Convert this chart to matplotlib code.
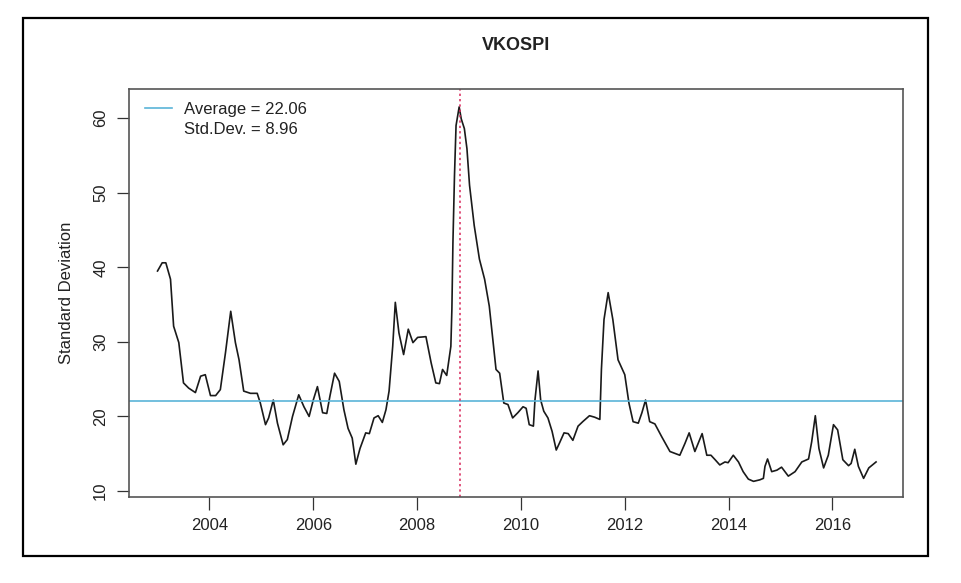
import numpy as np
import matplotlib
matplotlib.use('Agg')
import matplotlib.pyplot as plt
from matplotlib.lines import Line2D
from matplotlib.patches import Rectangle

plt.rcParams['font.family'] = ['Liberation Sans', 'DejaVu Sans']

# values (decimal year, level)
years = [2003.00, 2003.09, 2003.16, 2003.25, 2003.31, 2003.41, 2003.50, 2003.60,
         2003.73, 2003.83, 2003.92, 2004.02, 2004.12, 2004.21, 2004.31, 2004.41,
         2004.50, 2004.57, 2004.66, 2004.79, 2004.92, 2004.98, 2005.08, 2005.14,
         2005.23, 2005.31, 2005.42, 2005.50, 2005.60, 2005.72, 2005.82, 2005.92,
         2006.00, 2006.08, 2006.18, 2006.26, 2006.32, 2006.41, 2006.50, 2006.59,
         2006.67, 2006.75, 2006.82, 2006.90, 2007.01, 2007.08, 2007.17, 2007.25,
         2007.33, 2007.40, 2007.46, 2007.53, 2007.58, 2007.65, 2007.74, 2007.83,
         2007.92, 2008.01, 2008.17, 2008.27, 2008.36, 2008.43, 2008.49, 2008.57,
         2008.65, 2008.67, 2008.69, 2008.72, 2008.75, 2008.81, 2008.85, 2008.91,
         2008.96, 2009.01, 2009.10, 2009.20, 2009.30, 2009.39, 2009.52, 2009.59,
         2009.67, 2009.75, 2009.84, 2009.94, 2010.04, 2010.10, 2010.16, 2010.24,
         2010.27, 2010.33, 2010.38, 2010.44, 2010.52, 2010.60, 2010.68, 2010.74,
         2010.83, 2010.91, 2011.00, 2011.10, 2011.19, 2011.32, 2011.42, 2011.52,
         2011.55, 2011.60, 2011.68, 2011.77, 2011.87, 2012.00, 2012.08, 2012.16,
         2012.26, 2012.33, 2012.40, 2012.48, 2012.58, 2012.71, 2012.87, 2013.06,
         2013.16, 2013.24, 2013.35, 2013.49, 2013.58, 2013.66, 2013.74, 2013.83,
         2013.93, 2013.99, 2014.09, 2014.19, 2014.28, 2014.38, 2014.48, 2014.60,
         2014.67, 2014.70, 2014.75, 2014.83, 2014.93, 2015.02, 2015.15, 2015.28,
         2015.41, 2015.54, 2015.60, 2015.67, 2015.74, 2015.83, 2015.92, 2016.02,
         2016.10, 2016.20, 2016.31, 2016.36, 2016.43, 2016.50, 2016.60, 2016.70,
         2016.84]
vkospi = [39.5, 40.6, 40.6, 38.4, 32.1, 29.9, 24.5, 23.8,
          23.2, 25.4, 25.6, 22.8, 22.8, 23.6, 28.6, 34.1,
          29.9, 27.6, 23.4, 23.1, 23.1, 21.8, 18.9, 19.8,
          22.2, 19.1, 16.2, 16.9, 20.0, 22.9, 21.3, 20.0,
          22.2, 24.0, 20.5, 20.4, 22.7, 25.8, 24.7, 20.9,
          18.4, 17.1, 13.6, 15.7, 17.8, 17.7, 19.8, 20.1,
          19.2, 20.9, 23.4, 29.4, 35.3, 31.2, 28.3, 31.7,
          29.9, 30.6, 30.7, 27.2, 24.5, 24.4, 26.3, 25.5,
          29.4, 34.4, 43.3, 52.3, 59.0, 61.5, 59.9, 58.6,
          55.9, 51.0, 45.6, 41.1, 38.4, 34.8, 26.3, 25.8,
          21.8, 21.6, 19.8, 20.5, 21.3, 21.1, 18.9, 18.7,
          22.2, 26.1, 22.2, 20.7, 19.8, 18.0, 15.5, 16.4,
          17.8, 17.7, 16.8, 18.7, 19.3, 20.1, 19.9, 19.6,
          26.3, 33.0, 36.6, 33.0, 27.6, 25.6, 21.8, 19.3,
          19.1, 20.5, 22.2, 19.3, 19.0, 17.3, 15.3, 14.8,
          16.4, 17.8, 15.3, 17.7, 14.8, 14.8, 14.2, 13.5,
          13.9, 13.8, 14.8, 13.9, 12.6, 11.6, 11.3, 11.5,
          11.7, 13.3, 14.3, 12.6, 12.8, 13.2, 12.0, 12.6,
          13.9, 14.3, 16.6, 20.1, 15.7, 13.1, 14.8, 18.9,
          18.2, 14.2, 13.4, 13.7, 15.6, 13.3, 11.7, 13.1,
          13.9]

avg = 22.06
sd = 8.96
peak_year = 2008.83
xticks = [2004, 2006, 2008, 2010, 2012, 2014, 2016]
yticks = [10, 20, 30, 40, 50, 60]

fig = plt.figure(figsize=(9.61, 5.83), dpi=100)
ax = fig.add_axes([0.1342, 0.1475, 0.8055, 0.6998])

ax.plot(years, vkospi, color='#1a1a1a', lw=1.2)
ax.axhline(avg, color='#5ab4d8', lw=1.2)
ax.axvline(peak_year, color='#d8265a', lw=1.1, linestyle=(0, (1.5, 2)))

ax.set_xlim(2002.45, 2017.36)
ax.set_ylim(9.2, 63.9)
ax.set_xticks(xticks)
ax.set_yticks(yticks)
ax.tick_params(direction='out', length=9, width=0.9, colors='#333333',
               labelsize=12, labelcolor='#222222', pad=6)
for lab in ax.get_yticklabels():
    lab.set_rotation(90)
    lab.set_va('center')
for s in ax.spines.values():
    s.set_color('#555555')
    s.set_linewidth(1.2)

ax.set_ylabel('Standard Deviation', fontsize=12, color='#222222', labelpad=14)
fig.text(0.537, 1 - 45 / 583, 'VKOSPI', ha='center', va='center',
         fontsize=13, fontweight='bold', color='#222222')

handles = [Line2D([], [], color='#5ab4d8', lw=1.2), Line2D([], [], color='none')]
labels = ['Average = %.2f' % avg, 'Std.Dev. = %.2f' % sd]
ax.legend(handles, labels, loc='upper left', frameon=False, fontsize=12,
          handlelength=1.6, handletextpad=0.7, labelspacing=0.3,
          borderaxespad=0.35, bbox_to_anchor=(0.005, 1.0), labelcolor='#222222')

fig.patches.append(Rectangle((23 / 961, 1 - 556 / 583), 905 / 961, 538 / 583,
                             transform=fig.transFigure, fill=False,
                             edgecolor='black', lw=1.6))

fig.savefig('out.png', dpi=100)
